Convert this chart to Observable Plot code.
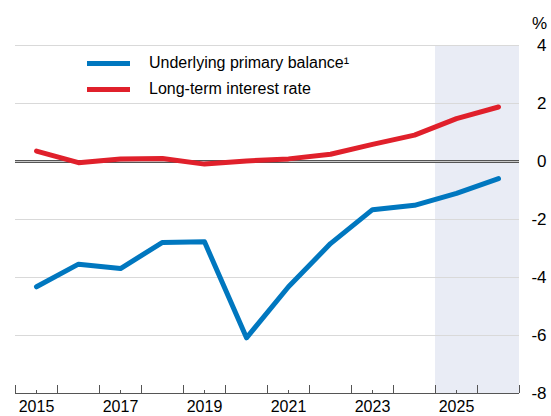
<!DOCTYPE html>
<html>
<head>
<meta charset="utf-8">
<script src="https://cdn.jsdelivr.net/npm/d3@7"></script>
<script src="https://cdn.jsdelivr.net/npm/@observablehq/plot@0.6"></script>
<style>
  html, body { margin: 0; padding: 0; background: #fff; }
  #wrap { position: relative; width: 551px; height: 416px; font-family: "Liberation Sans", Arial, sans-serif; }
  #legend { position: absolute; left: 87px; top: 50px; font-size: 16px; color: #000; }
  .row { display: flex; align-items: center; height: 26px; }
  .sw { width: 43px; height: 5px; margin-right: 19px; }
  #pct { position: absolute; right: 4px; top: 14px; font-size: 17px; }
</style>
</head>
<body>
<div id="wrap">
  <div id="chart"></div>
  <div id="legend"></div>
  <div id="pct">%</div>
</div>
<script>
const years = [2015, 2016, 2017, 2018, 2019, 2020, 2021, 2022, 2023, 2024, 2025, 2026];
const primaryBalance = [-4.32, -3.54, -3.69, -2.79, -2.77, -6.08, -4.32, -2.83, -1.66, -1.51, -1.10, -0.59];
const longTermRate = [0.36, -0.04, 0.09, 0.10, -0.09, 0.02, 0.09, 0.25, 0.59, 0.91, 1.48, 1.88];
const seriesNames = ["Underlying primary balance\u00b9", "Long-term interest rate"];
const seriesColors = ["#0077bf", "#e0202b"];
const forecastStart = 2024.5;
const forecastEnd = 2026.5;
const yTicks = [-8, -6, -4, -2, 0, 2, 4];
const gridValues = [-6, -4, -2, 2, 4];
const xBoundaries = [2014.5, 2015.5, 2016.5, 2017.5, 2018.5, 2019.5, 2020.5, 2021.5, 2022.5, 2023.5, 2024.5, 2025.5, 2026.5];
const xLabelYears = [2015, 2017, 2019, 2021, 2023, 2025];

const balanceData = years.map((y, i) => ({year: y, value: primaryBalance[i]}));
const rateData = years.map((y, i) => ({year: y, value: longTermRate[i]}));

const chart = Plot.plot({
  width: 551,
  height: 416,
  marginLeft: 15,
  marginRight: 32,
  marginTop: 45,
  marginBottom: 23,
  style: {fontFamily: '"Liberation Sans", Arial, sans-serif', fontSize: "17px", color: "#000", background: "transparent"},
  x: {domain: [2014.5, 2026.5], label: null},
  y: {domain: [-8, 4], label: null},
  marks: [
    Plot.rect([{x1: forecastStart, x2: forecastEnd}], {x1: "x1", x2: "x2", fill: "#e9ecf5"}),
    Plot.ruleY(gridValues, {stroke: "#d9d9d9", strokeWidth: 1}),
    Plot.ruleY([0], {stroke: "#555", strokeWidth: 3}),
    Plot.ruleY([0], {stroke: "#c8c8c8", strokeWidth: 1}),
    Plot.ruleY([-8], {stroke: "#555", strokeWidth: 1}),
    Plot.line(rateData, {x: "year", y: "value", stroke: seriesColors[1], strokeWidth: 5}),
    Plot.line(balanceData, {x: "year", y: "value", stroke: seriesColors[0], strokeWidth: 5}),
    Plot.axisX({ticks: xBoundaries, tickSize: 8, dy: -8, stroke: "#555", tickFormat: () => "", label: null}),
    Plot.axisX({ticks: xLabelYears, tickSize: 3, dy: -3, stroke: "#555", tickFormat: () => "", label: null}),
    Plot.axisX({ticks: xLabelYears, tickSize: 0, tickPadding: 7, fontSize: 16, tickFormat: d => String(d), label: null, fill: "#000"}),
    Plot.axisY({anchor: "right", ticks: yTicks, tickSize: 0, tickPadding: 0, textAnchor: "end", dx: 27, tickFormat: d => String(d), label: null, fill: "#000"})
  ]
});
document.getElementById("chart").appendChild(chart);

const legend = document.getElementById("legend");
seriesNames.forEach((name, i) => {
  const row = document.createElement("div");
  row.className = "row";
  const sw = document.createElement("div");
  sw.className = "sw";
  sw.style.background = seriesColors[i];
  const t = document.createElement("span");
  t.textContent = name;
  row.appendChild(sw);
  row.appendChild(t);
  legend.appendChild(row);
});
</script>
</body>
</html>
